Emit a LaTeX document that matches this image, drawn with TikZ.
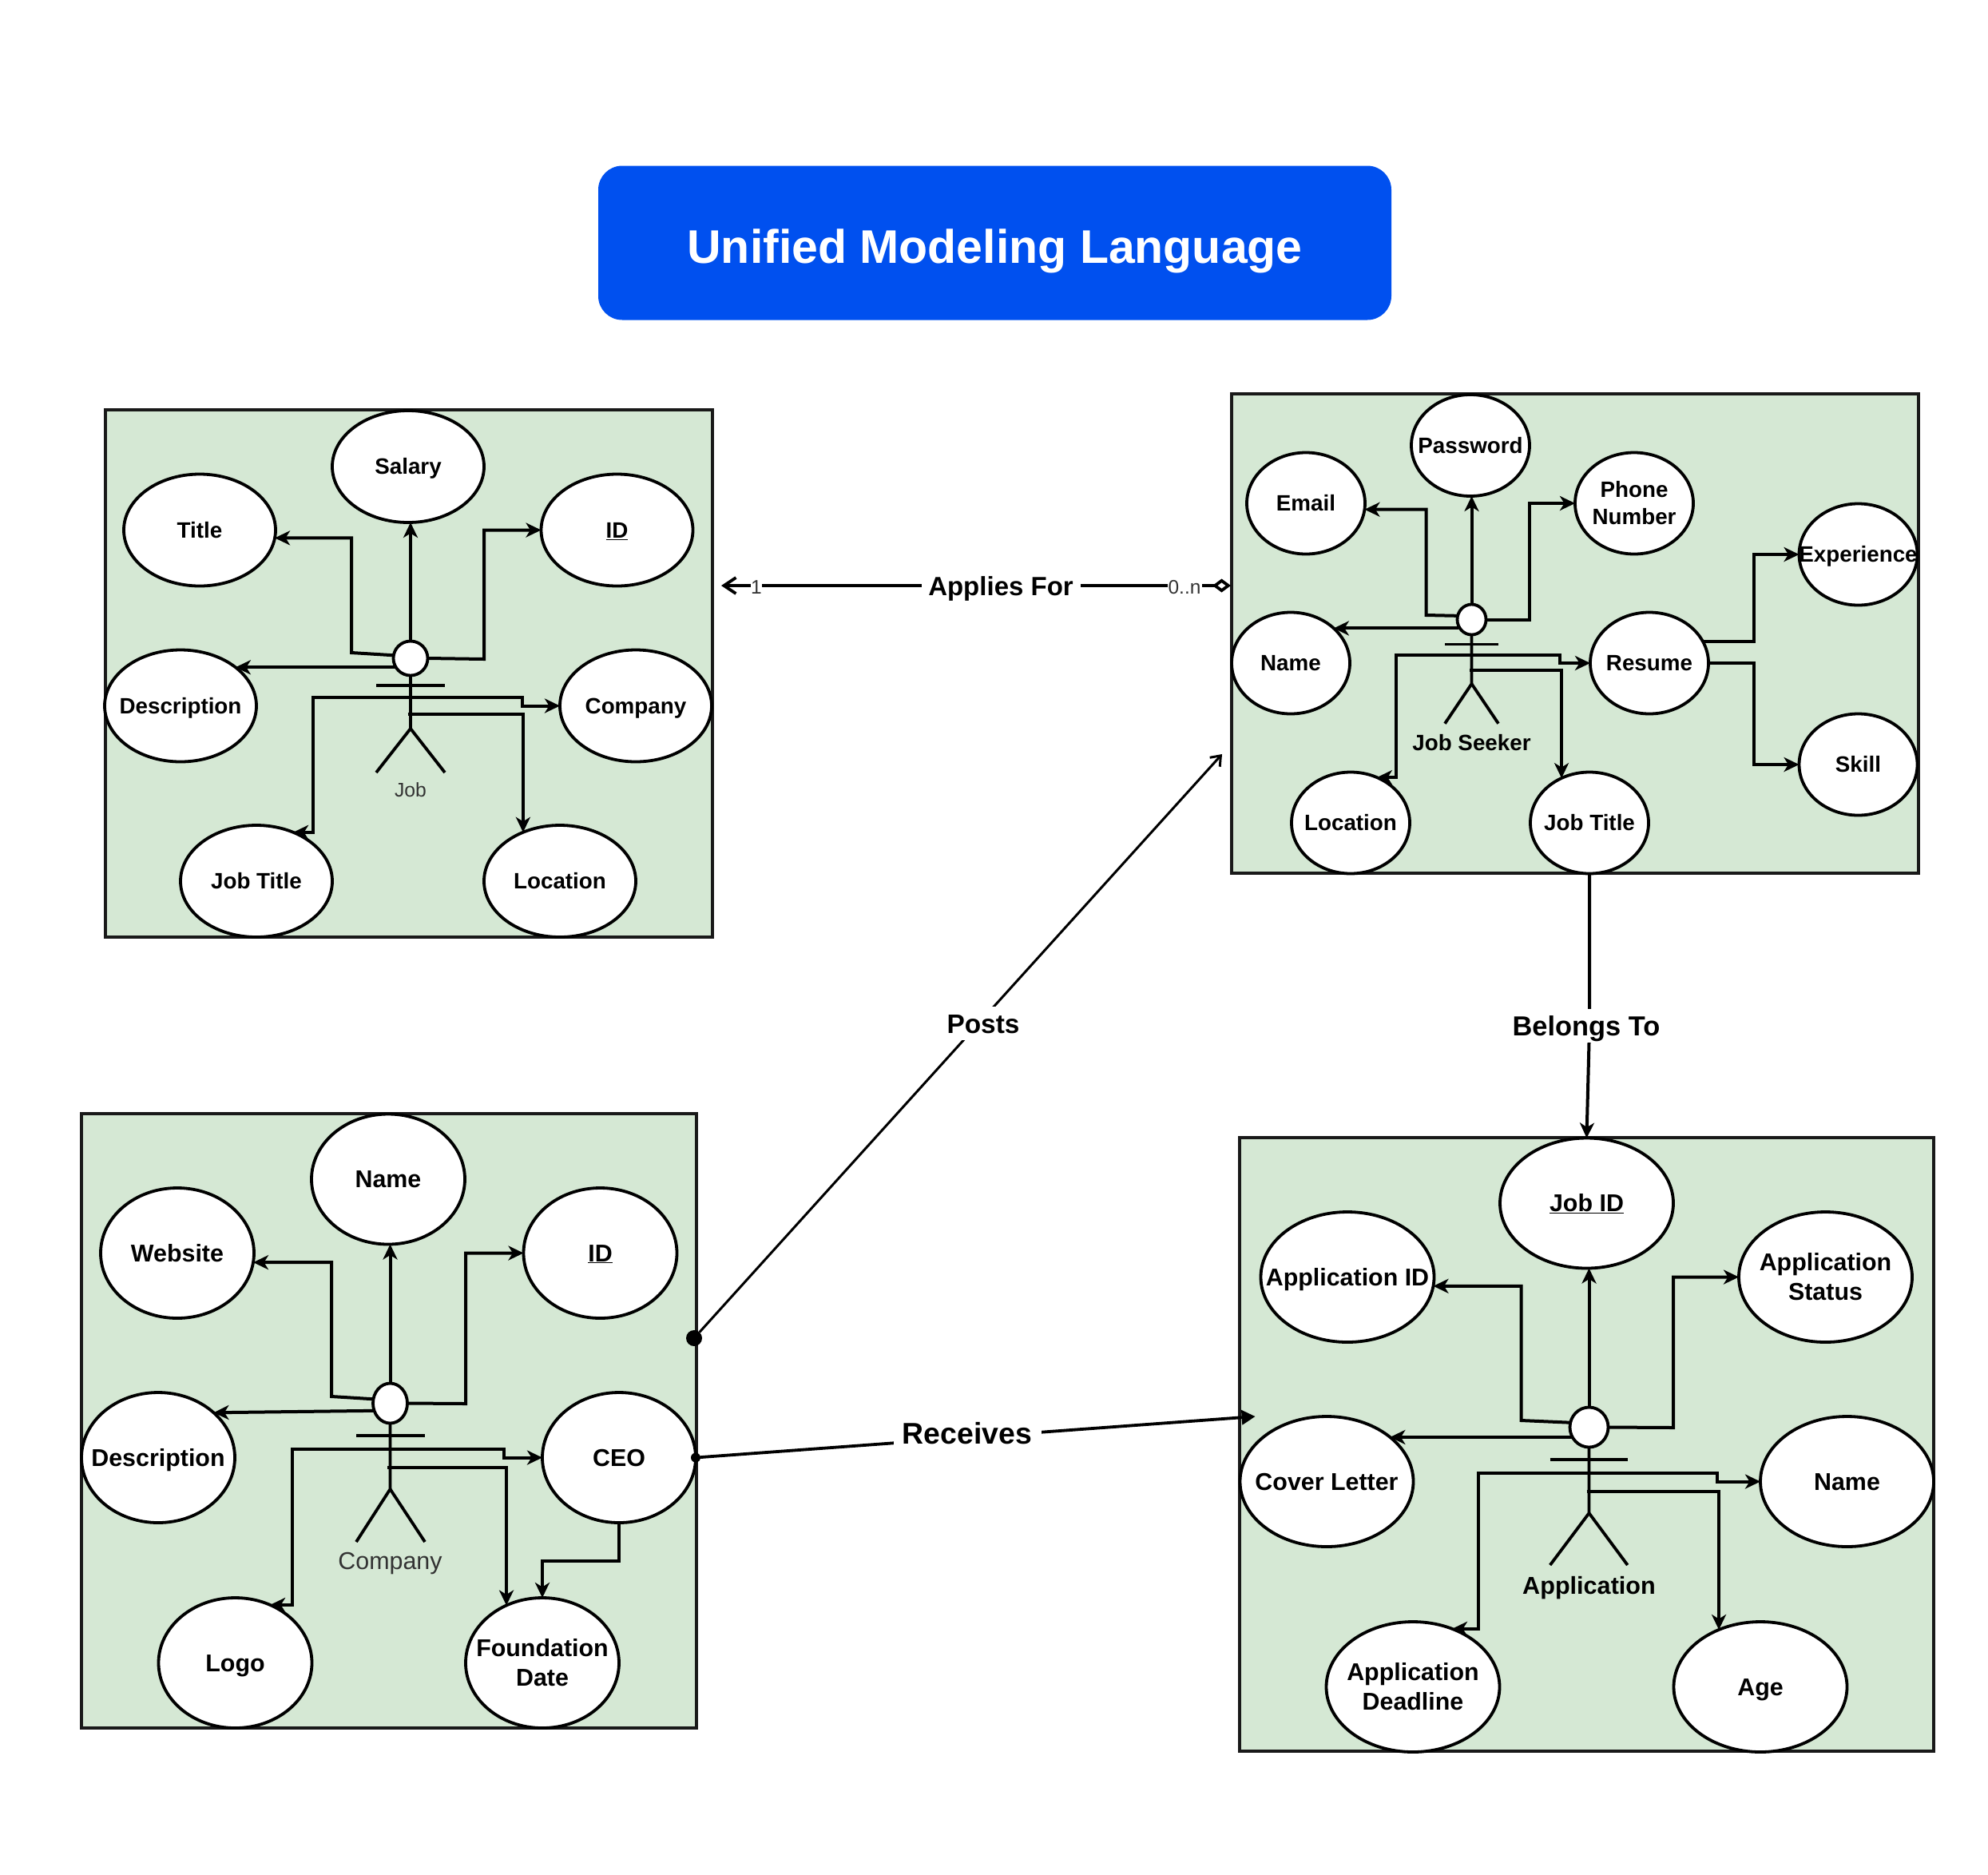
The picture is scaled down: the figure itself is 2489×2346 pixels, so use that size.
\documentclass[tikz,border=0pt]{standalone}
\usepackage{fontspec}
\setmainfont{Liberation Sans}
\usetikzlibrary{shapes.geometric,arrows.meta}
\definecolor{panelgreen}{HTML}{D5E8D4}
\definecolor{titleblue}{HTML}{0050EF}
\definecolor{softtext}{HTML}{333333}
\newcommand{\attr}[5]{\node[#4E] (#1) at (#2,#3) {};\node[#4T,#4C] (#1t) at (#2,#3) {#5};}
\newcommand{\attrii}[5]{\node[#4E] (#1) at (#2,#3) {};\node[#4T,align=center] (#1t) at (#2,#3) {#5};}
\tikzset{
  x=1pt,y=-1pt,
  panel/.style={draw=black!90,line width=4pt,fill=panelgreen},
  oval/.style={ellipse,draw=black,line width=3.8pt,fill=white,inner sep=0pt,outer sep=0pt},
  jobE/.style={oval,minimum width=190pt,minimum height=140pt},
  seekE/.style={oval,minimum width=148pt,minimum height=127pt},
  compE/.style={oval,minimum width=192pt,minimum height=163pt},
  appE/.style={oval,minimum width=217pt,minimum height=163pt},
  smallT/.style={inner sep=0pt,font=\fontsize{27.8}{34}\selectfont\bfseries},
  largeT/.style={inner sep=0pt,font=\fontsize{30.4}{37}\selectfont\bfseries},
  jobT/.style={smallT},seekT/.style={smallT},compT/.style={largeT},appT/.style={largeT},
  jobC/.style={text height=19.7pt,text depth=0pt},seekC/.style={jobC},
  compC/.style={text height=21.5pt,text depth=0pt},appC/.style={compC},
  head/.style={oval},
  figure/.style={line width=3.8pt,draw=black},
  conn/.style={draw=black,line width=4pt,-{Stealth[length=19pt,width=18pt,inset=5.5pt]}},
  actorname/.style={inner sep=0pt,text height=19pt,text depth=0pt},
  flowlabel/.style={fill=white,inner sep=0pt,text height=24pt,text depth=0pt,minimum height=42pt,
    font=\fontsize{33}{40}\selectfont\bfseries},
  multi/.style={fill=white,inner sep=0pt,font=\fontsize{24.5}{30}\selectfont,text=softtext,
    text height=18pt,text depth=0pt,minimum height=20pt},
  dot/.style={circle,fill=black,inner sep=0pt,outer sep=0pt},
}
\begin{document}
\begin{tikzpicture}
\useasboundingbox (0,0) rectangle (2489,2346);

% title
\node[fill=titleblue,rounded corners=30pt,minimum width=993pt,minimum height=193pt,inner sep=0pt] (titlebox) at (1245.5,304) {};
\node[text=white,inner sep=0pt,font=\fontsize{59}{70}\selectfont\bfseries,text height=42pt,text depth=0pt] (titletext) at (1245.5,308.5) {Unified Modeling Language};

% panels
\node[panel,minimum width=760pt,minimum height=660pt,inner sep=0pt] (jobpanel) at (512,843) {};
\node[panel,minimum width=860pt,minimum height=600pt,inner sep=0pt] (seekpanel) at (1971.5,793) {};
\node[panel,minimum width=770pt,minimum height=769pt,inner sep=0pt] (comppanel) at (486.5,1778) {};
\node[panel,minimum width=869pt,minimum height=768pt,inner sep=0pt] (apppanel) at (1986.5,1808) {};

% ---------- Job ----------
\attr{jSalary}{511}{584}{job}{Salary}
\attr{jTitle}{250}{663.5}{job}{Title}
\attr{jID}{772.5}{663.5}{job}{\underline{ID}}
\attr{jDesc}{226}{883.5}{job}{Description}
\attr{jComp}{796}{883.5}{job}{Company}
\attr{jJT}{321}{1103}{job}{Job Title}
\attr{jLoc}{701}{1103}{job}{Location}
\node[head,minimum width=43pt,minimum height=43pt] (jh) at (514,824) {};
\coordinate (jhip) at (514,912);
\coordinate (jarmL) at (471,858);
\coordinate (jarmR) at (557,858);
\coordinate (jlegL) at (471,967);
\coordinate (jlegR) at (557,967);
\draw[figure] (jarmL) -- (jarmR);
\draw[figure] (jh.south) -- (jhip) -- (jlegL);
\draw[figure] (jhip) -- (jlegR);
\node[actorname,font=\fontsize{24.7}{30}\selectfont,text=softtext,text height=18pt] (jname) at (514,988) {Job};
\coordinate (jb1) at (514,873);
\coordinate (jb2) at (510.6,894);
\draw[conn] (jh.north) -- (jh.north |- jSalary.south);
\draw[conn] (jh.170) -- (440,817) |- (jTitle.-6);
\draw[conn] (jh.east) -- (606,825) |- (jID.west);
\draw[conn] (jh.205 |- jDesc.35) -- (jDesc.35);
\draw[conn] (jb1) -- (654,873) |- (jComp.west);
\draw[conn] (jb1) -- (392,873) |- (jJT.53);
\draw[conn] (jb2) -| (jLoc.127);

% ---------- Job Seeker ----------
\attr{sPass}{1841}{557.5}{seek}{Password}
\attr{sEmail}{1635}{630}{seek}{Email}
\attrii{sPhone}{2046}{630}{seek}{Phone\\Number}
\attr{sExp}{2326.5}{694}{seek}{Experience}
\attr{sName}{1616}{830}{seek}{Name}
\attr{sRes}{2065}{830}{seek}{Resume}
\attr{sSkill}{2326.5}{957}{seek}{Skill}
\attr{sLoc}{1691}{1030}{seek}{Location}
\attr{sJT}{1990}{1030}{seek}{Job Title}
\node[head,minimum width=36pt,minimum height=38pt] (sh) at (1842.5,775.5) {};
\coordinate (ship) at (1842.5,856);
\coordinate (sarmL) at (1809,806.5);
\coordinate (sarmR) at (1876,806.5);
\coordinate (slegL) at (1809,905.7);
\coordinate (slegR) at (1876,905.7);
\draw[figure] (sarmL) -- (sarmR);
\draw[figure] (sh.south) -- (ship) -- (slegL);
\draw[figure] (ship) -- (slegR);
\node[actorname,font=\fontsize{27.8}{33}\selectfont\bfseries,text height=19.7pt] (sname) at (1842.5,930) {Job Seeker};
\coordinate (sb1) at (1842.5,820);
\coordinate (sb2) at (1840,839);
\draw[conn] (sh.north) -- (sh.north |- sPass.south);
\draw[conn] (sh.165) -- (1785.5,770) |- (sEmail.-6);
\draw[conn] (sh.east) -- (1915,775.5) |- (sPhone.west);
\draw[conn] (sh.208 |- sName.39) -- (sName.39);
\draw[conn] (sb1) -- (1953,820) |- (sRes.west);
\draw[conn] (sb1) -- (1747.7,820) |- (sLoc.60);
\draw[conn] (sb2) -| (sJT.122);
\draw[conn] (sRes.22) -| (2196,694) -- (sExp.west);
\draw[conn] (sRes.east) -| (2196,957) -- (sSkill.west);

% ---------- Company ----------
\attr{cName}{486}{1476}{comp}{Name}
\attr{cWeb}{222}{1568.5}{comp}{Website}
\attr{cID}{751.5}{1568.5}{comp}{\underline{ID}}
\attr{cDesc}{198}{1824.5}{comp}{Description}
\attr{cCEO}{775}{1824.5}{comp}{CEO}
\attr{cLogo}{294.5}{2081.5}{comp}{Logo}
\attrii{cFound}{679}{2081.5}{comp}{Foundation\\Date}
\node[head,minimum width=43pt,minimum height=50pt] (ch) at (488.5,1756.5) {};
\coordinate (chip) at (488.5,1864);
\coordinate (carmL) at (446,1797);
\coordinate (carmR) at (532,1797);
\coordinate (clegL) at (446,1930);
\coordinate (clegR) at (532,1930);
\draw[figure] (carmL) -- (carmR);
\draw[figure] (ch.south) -- (chip) -- (clegL);
\draw[figure] (chip) -- (clegR);
\node[actorname,font=\fontsize{30.4}{36}\selectfont,text=softtext,text height=21.5pt] (cname) at (488.5,1954) {Company};
\coordinate (cb1) at (488.5,1813.6);
\coordinate (cb2) at (485,1836.6);
\draw[conn] (ch.north) -- (ch.north |- cName.south);
\draw[conn] (ch.166) -- (415,1748) |- (cWeb.-7);
\draw[conn] (ch.east) -- (583,1757) |- (cID.west);
\draw[conn] (ch.205) -- (cDesc.39);
\draw[conn] (cb1) -- (631,1813.6) |- (cCEO.west);
\draw[conn] (cb1) -- (366,1813.6) |- (cLogo.59);
\draw[conn] (cb2) -| (cFound.122);
\draw[conn] (cCEO.south) -- (775,1954) -| (cFound.north);

% ---------- Application ----------
\attr{aJobID}{1986.5}{1506}{app}{\underline{Job ID}}
\attr{aAppID}{1687}{1598.5}{app}{Application ID}
\attrii{aStatus}{2285.5}{1598.5}{app}{Application\\Status}
\attr{aCover}{1661}{1854.5}{app}{Cover Letter}
\attr{aName}{2312.5}{1854.5}{app}{Name}
\attrii{aDead}{1769}{2111.5}{app}{Application\\Deadline}
\attr{aAge}{2204}{2111.5}{app}{Age}
\node[head,minimum width=48pt,minimum height=50pt] (ah) at (1989.5,1786.5) {};
\coordinate (ahip) at (1989.5,1894);
\coordinate (aarmL) at (1940.7,1827);
\coordinate (aarmR) at (2037.7,1827);
\coordinate (alegL) at (1940.7,1959);
\coordinate (alegR) at (2037.7,1959);
\draw[figure] (aarmL) -- (aarmR);
\draw[figure] (ah.south) -- (ahip) -- (alegL);
\draw[figure] (ahip) -- (alegR);
\node[actorname,font=\fontsize{30.6}{36}\selectfont\bfseries,text height=21.5pt] (aname) at (1989.5,1985) {Application};
\coordinate (ab1) at (1989,1843.5);
\coordinate (ab2) at (1986.6,1866.6);
\draw[conn] (ah.north) -- (ah.north |- aJobID.south);
\draw[conn] (ah.166) -- (1904.5,1778) |- (aAppID.-6);
\draw[conn] (ah.east) -- (2095,1787) |- (aStatus.west);
\draw[conn] (ah.205 |- aCover.35) -- (aCover.35);
\draw[conn] (ab1) -- (2149.6,1843.5) |- (aName.west);
\draw[conn] (ab1) -- (1850.6,1843.5) |- (aDead.56);
\draw[conn] (ab2) -| (aAge.126);

% ---------- relations between panels ----------
\coordinate (appliesJob) at (903,733);
\coordinate (appliesSeek) at (1541,733);
\draw[line width=3.8pt,{Straight Barb[length=15pt,width=20pt]}-{Diamond[open,length=23pt,width=17pt,fill=white]}] (appliesJob) -- (appliesSeek);
\node[flowlabel,minimum width=199pt] (appliesLabel) at (1253,733.5) {Applies For};
\node[multi,minimum width=14pt] (appliesOne) at (947,734) {1};
\node[multi,minimum width=43pt] (appliesMany) at (1483,734) {0..n};

\node[dot,minimum size=20pt] (postsDot) at (869,1675) {};
\coordinate (postsEnd) at (1530,944);
\draw[line width=3pt,-{Straight Barb[length=11pt,width=17pt]}] (postsDot) -- (postsEnd);
\node[flowlabel,minimum width=100pt,font=\fontsize{33.4}{40}\selectfont\bfseries] (postsLabel) at (1231,1281) {Posts};

\node[dot,minimum size=12pt] (receivesDot) at (cCEO.east) {};
\coordinate (receivesEnd) at (1571.6,1773);
\draw[line width=3.8pt,-{Triangle[length=17pt,width=18pt]}] (receivesDot) -- (receivesEnd);
\node[flowlabel,minimum width=185pt,font=\fontsize{37.4}{44}\selectfont\bfseries,text height=27pt] (receivesLabel) at (1211,1793.5) {Receives};

\coordinate (belongsBend) at (1990,1285);
\draw[conn] (sJT.south) -- (belongsBend) -- (aJobID.north);
\node[flowlabel,minimum width=190pt,font=\fontsize{34.4}{42}\selectfont\bfseries,text height=25pt] (belongsLabel) at (1986,1284) {Belongs To};
\end{tikzpicture}
\end{document}
